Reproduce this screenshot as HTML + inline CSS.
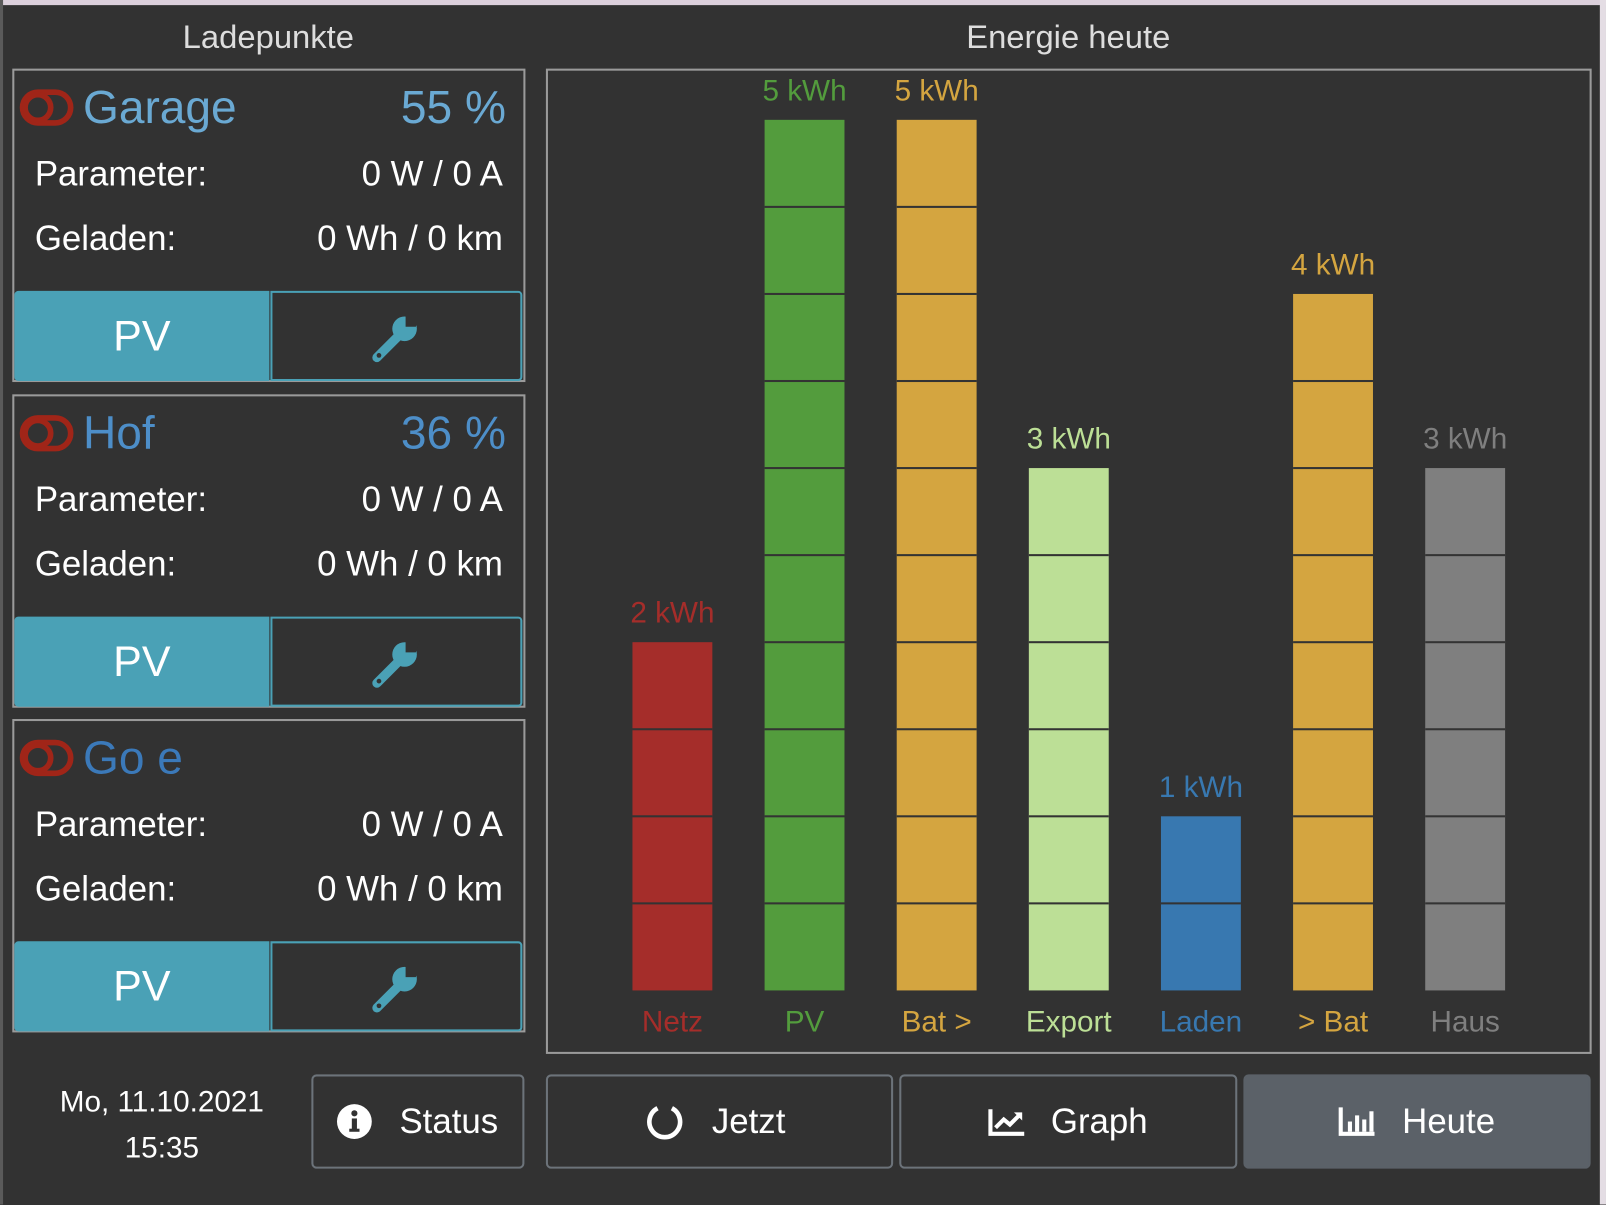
<!DOCTYPE html>
<html><head><meta charset="utf-8"><style>
html,body{margin:0;padding:0;width:1606px;height:1204px;overflow:hidden;background:#323232;}
#w{position:absolute;left:0;top:0;width:1568px;height:1176px;transform:scale(1.02423);transform-origin:0 0;background:#323232;font-family:"Liberation Sans",sans-serif;}
.a{position:absolute;}
.card{position:absolute;left:12px;width:497px;height:303px;border:2px solid #9a9a9a;box-sizing:border-box;}
.t{position:absolute;white-space:nowrap;}
.btn{position:absolute;box-sizing:border-box;border:2px solid #6c737a;border-radius:5px;color:#fff;font-size:34px;}
</style></head><body><div id="w">
<div class="a" style="left:0;top:0;width:1568px;height:5px;background:#dcd0dc"></div>
<div class="a" style="left:0;top:0;width:3px;height:1176px;background:#5a5a5a"></div>
<div class="a" style="left:1562px;top:0;width:6px;height:1176px;background:#e4dde4"></div>
<div class="t" style="left:62px;width:400px;text-align:center;top:18px;font-size:32px;color:#ddd">Ladepunkte</div>
<div class="t" style="left:843px;width:400px;text-align:center;top:18px;font-size:32px;color:#ddd">Energie heute</div>

<div id="cards"></div>
<script>
var names=[["Garage","55 %","#6aa9d3"],["Hof","36 %","#4d8ec8"],["Go e","","#3b79b9"]];
var h="";
for(var i=0;i<3;i++){var y=67+i*317.5;
h+='<div class="card" style="top:'+y+'px;height:306px;width:501px"></div>';
h+='<svg class="a" style="left:19px;top:'+(y+19)+'px" width="54" height="40"><rect x="3" y="4" width="47" height="30" rx="15" fill="none" stroke="#a02518" stroke-width="5.5"/><circle cx="18" cy="19" r="12.5" fill="none" stroke="#a02518" stroke-width="5.5"/></svg>';
h+='<div class="t" style="left:81px;top:'+(y+12)+'px;font-size:45px;color:'+names[i][2]+'">'+names[i][0]+'</div>';
h+='<div class="t" style="right:'+(1568-494)+'px;top:'+(y+12)+'px;font-size:45px;color:'+names[i][2]+'">'+names[i][1]+'</div>';
h+='<div class="t" style="left:34px;top:'+(y+84)+'px;font-size:34px;color:#fff">Parameter:</div>';
h+='<div class="t" style="right:'+(1568-491)+'px;top:'+(y+84)+'px;font-size:34px;color:#fff">0 W / 0 A</div>';
h+='<div class="t" style="left:34px;top:'+(y+147)+'px;font-size:34px;color:#fff">Geladen:</div>';
h+='<div class="t" style="right:'+(1568-491)+'px;top:'+(y+147)+'px;font-size:34px;color:#fff">0 Wh / 0 km</div>';
h+='<div class="a" style="left:14px;top:'+(y+217)+'px;width:249px;height:88px;background:#4aa1b6;border-radius:4px 0 0 4px;color:#fff;font-size:42px;text-align:center;line-height:88px">PV</div>';
h+='<div class="a" style="left:264px;top:'+(y+217)+'px;width:246px;height:88px;box-sizing:border-box;border:2px solid #4aa1b6;border-radius:0 4px 4px 0"><svg style="position:absolute;left:96px;top:19px" width="50" height="50" viewBox="0 0 50 50"><path d="M6 44 L26 24" stroke="#4aa1b6" stroke-width="9" stroke-linecap="round"/><circle cx="33" cy="16" r="12" fill="#4aa1b6"/><path d="M34 4 L34 14 L44 14 L48 2 Z" fill="#323232"/><circle cx="8" cy="42" r="2.3" fill="#323232"/></svg></div>';
}
document.getElementById("cards").innerHTML=h;
</script>

<div class="a" style="left:533px;top:67px;width:1021px;height:962px;box-sizing:border-box;border:2px solid #9a9a9a"></div>
<svg class="a" style="left:0;top:0" width="1568" height="1176" id="ch"></svg>
<script>
(function(){
var bars=[["Netz","2 kWh",2,"#a52d2a"],["PV","5 kWh",5,"#539c3d"],["Bat &gt;","5 kWh",5,"#d4a540"],["Export","3 kWh",3,"#bcdf96"],["Laden","1 kWh",1,"#3878b0"],["&gt; Bat","4 kWh",4,"#d4a540"],["Haus","3 kWh",3,"#7f7f7f"]];
var s="";
for(var i=0;i<7;i++){var cx=656.5+i*129,b=bars[i],by=967-b[2]*170;
s+='<rect x="'+(cx-39)+'" y="'+by+'" width="78" height="'+(967-by)+'" fill="'+b[3]+'"/>';
for(var k=1;k<b[2]*2;k++){var ly=by+k*85;s+='<rect x="'+(cx-39)+'" y="'+(ly-1)+'" width="78" height="2" fill="#333"/>';}
s+='<text x="'+cx+'" y="'+(by-19)+'" text-anchor="middle" font-family="Liberation Sans" font-size="29" fill="'+b[3]+'">'+b[1]+'</text>';
s+='<text x="'+cx+'" y="1007" text-anchor="middle" font-family="Liberation Sans" font-size="29" fill="'+b[3]+'">'+b[0]+'</text>';}
document.getElementById("ch").innerHTML=s;
})();
</script>

<div class="t" style="left:8px;width:300px;text-align:center;top:1060px;font-size:29px;color:#fff">Mo, 11.10.2021</div>
<div class="t" style="left:8px;width:300px;text-align:center;top:1105px;font-size:29px;color:#fff">15:35</div>
<div class="btn" style="left:304px;top:1049px;width:208px;height:92px">
 <svg class="a" style="left:22px;top:26px" width="36" height="36"><circle cx="18" cy="18" r="17" fill="#fff"/><rect x="15.5" y="15" width="5" height="12" fill="#323232"/><circle cx="18" cy="10" r="3" fill="#323232"/><rect x="13" y="25" width="10" height="3" fill="#323232"/></svg>
 <span class="a" style="left:84px;top:25px">Status</span></div>
<div class="btn" style="left:533px;top:1049px;width:339px;height:92px">
 <svg class="a" style="left:96px;top:26px" width="36" height="38"><path d="M11 5 A15 15 0 1 0 25 5" fill="none" stroke="#fff" stroke-width="4.5"/></svg>
 <span class="a" style="left:160px;top:25px">Jetzt</span></div>
<div class="btn" style="left:878px;top:1049px;width:330px;height:92px">
 <svg class="a" style="left:84px;top:30px" width="38" height="30"><path d="M3 2 V26 H36" fill="none" stroke="#fff" stroke-width="4"/><path d="M8 20 L16 12 L22 17 L32 7" fill="none" stroke="#fff" stroke-width="4"/><path d="M26 5 H34 V13 Z" fill="#fff"/></svg>
 <span class="a" style="left:146px;top:25px">Graph</span></div>
<div class="btn" style="left:1214px;top:1049px;width:339px;height:92px;background:#5b6168;border-color:#5b6168">
 <svg class="a" style="left:90px;top:30px" width="38" height="30"><path d="M3 0 V26 H36" fill="none" stroke="#fff" stroke-width="4"/><rect x="10" y="14" width="4" height="10" fill="#fff"/><rect x="17" y="8" width="4" height="16" fill="#fff"/><rect x="24" y="12" width="4" height="12" fill="#fff"/><rect x="31" y="4" width="4" height="20" fill="#fff"/></svg>
 <span class="a" style="left:153px;top:25px">Heute</span></div>
</div></body></html>
